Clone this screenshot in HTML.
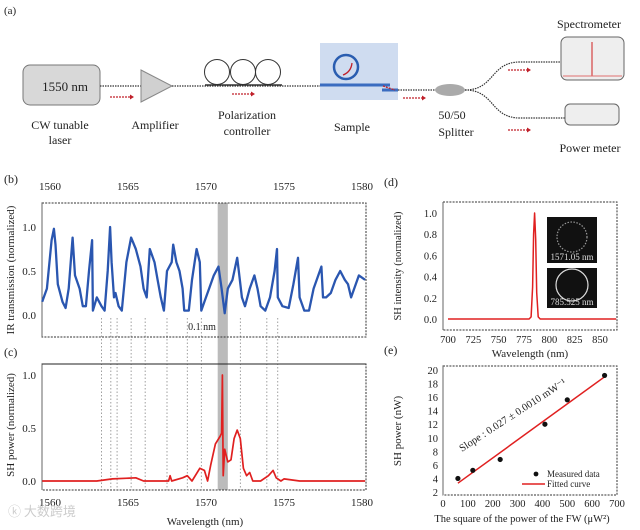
<!DOCTYPE html>
<html><head><meta charset="utf-8"><style>
html,body{margin:0;padding:0;background:#fff}
svg{display:block;font-family:"Liberation Serif","Noto Serif CJK SC",serif}
</style></head><body>
<svg id="fig" width="640" height="530" viewBox="0 0 640 530" xmlns="http://www.w3.org/2000/svg">
<g font-size="12" fill="#222">
 <text x="4" y="14" font-size="11">(a)</text>
 <rect x="23" y="65" width="77" height="40" rx="7" fill="#d8d8d8" stroke="#777"/>
 <text x="65" y="91" text-anchor="middle" font-size="13">1550 nm</text>
 <text x="60" y="129" text-anchor="middle">CW tunable</text>
 <text x="60" y="144" text-anchor="middle">laser</text>
 <line x1="100" y1="86" x2="141" y2="86" stroke="#333" stroke-width="1.2" stroke-dasharray="1.5,1"/>
 <polygon points="141,70 141,102 172,86" fill="#d0d0d0" stroke="#888"/>
 <text x="155" y="129" text-anchor="middle">Amplifier</text>
 <line x1="172" y1="86" x2="320" y2="86" stroke="#333" stroke-width="1.2" stroke-dasharray="1.5,1"/>
 <line x1="205" y1="85" x2="282" y2="85" stroke="#333" stroke-width="1.5"/>
 <circle cx="217" cy="72" r="12.5" fill="none" stroke="#333"/>
 <circle cx="243" cy="72" r="12.5" fill="none" stroke="#333"/>
 <circle cx="268" cy="72" r="12.5" fill="none" stroke="#333"/>
 <text x="247" y="119" text-anchor="middle">Polarization</text>
 <text x="247" y="135" text-anchor="middle">controller</text>
 <rect x="320" y="43" width="78" height="57" fill="#cfdcf0"/>
 <circle cx="346" cy="67" r="12" fill="none" stroke="#2a5db0" stroke-width="2.5"/>
 <path d="M343,75 Q351,72 352,63" fill="none" stroke="#c0202a" stroke-width="1.3"/>
 <line x1="320" y1="85" x2="390" y2="85" stroke="#3a6cc0" stroke-width="3"/>
 <line x1="382" y1="90" x2="398" y2="90" stroke="#3a6cc0" stroke-width="3"/>
 <text x="352" y="131" text-anchor="middle">Sample</text>
 <line x1="398" y1="90" x2="436" y2="90" stroke="#333" stroke-width="1.2" stroke-dasharray="1.5,1"/>
 <ellipse cx="450" cy="90" rx="15" ry="6" fill="#aaa"/>
 <path d="M465,90 C495,90 490,62 520,62 L561,62" fill="none" stroke="#333" stroke-width="1.2" stroke-dasharray="1.5,1"/>
 <path d="M465,90 C495,90 490,118 520,118 L565,118" fill="none" stroke="#333" stroke-width="1.2" stroke-dasharray="1.5,1"/>
 <text x="452" y="119" text-anchor="middle">50/50</text>
 <text x="456" y="136" text-anchor="middle">Splitter</text>
 <rect x="561" y="37" width="63" height="43" rx="6" fill="#eee" stroke="#666"/>
 <line x1="592" y1="42" x2="592" y2="76" stroke="#d02020"/>
 <line x1="563" y1="76" x2="622" y2="76" stroke="#e07070"/>
 <text x="589" y="28" text-anchor="middle">Spectrometer</text>
 <rect x="565" y="104" width="54" height="21" rx="5" fill="#eee" stroke="#666"/>
 <text x="590" y="152" text-anchor="middle">Power meter</text>
 <g stroke="#c0202a" stroke-width="1.3" stroke-dasharray="2,1" fill="#c0202a">
  <line x1="110" y1="97" x2="130" y2="97"/><line x1="232" y1="94" x2="251" y2="94"/>
  <line x1="403" y1="98" x2="422" y2="98"/><line x1="508" y1="70" x2="527" y2="70"/><line x1="508" y1="130" x2="527" y2="130"/>
  <line x1="383" y1="86" x2="395" y2="90"/>
 </g>
 <g fill="#c0202a">
  <polygon points="130,94.5 134,97 130,99.5"/><polygon points="251,91.5 255,94 251,96.5"/>
  <polygon points="422,95.5 426,98 422,100.5"/><polygon points="527,67.5 531,70 527,72.5"/><polygon points="527,127.5 531,130 527,132.5"/>
 </g>
</g>
<g id="plots"></g>
<text x="8" y="516" font-size="13" fill="#ccc" font-family="'Noto Sans CJK SC',sans-serif">ⓚ 大数跨境</text>
</svg>
<script>
const bWave=[1559.5,1559.8,1560.1,1560.25,1560.35,1560.5,1560.8,1561.0,1561.2,1561.45,1561.6,1561.9,1562.1,1562.3,1562.5,1562.7,1562.75,1563.0,1563.3,1563.5,1563.7,1563.85,1563.95,1564.1,1564.2,1564.4,1564.6,1564.9,1565.2,1565.5,1565.8,1566.0,1566.2,1566.4,1566.7,1566.9,1567.1,1567.3,1567.5,1567.8,1567.9,1568.1,1568.3,1568.5,1568.6,1568.9,1569.1,1569.4,1569.6,1569.7,1569.9,1570.2,1570.5,1570.8,1571.0,1571.2,1571.4,1571.7,1572.0,1572.1,1572.3,1572.5,1572.8,1573.1,1573.3,1573.5,1573.8,1574.1,1574.4,1574.55,1574.6,1574.9,1575.3,1575.6,1575.9,1576.0,1576.3,1576.6,1576.9,1577.2,1577.4,1577.5,1577.7,1578.0,1578.3,1578.6,1578.9,1579.1,1579.3,1579.5,1579.8,1580.2];
const bTrans=[0.15,0.3,0.85,0.98,0.8,0.35,0.15,0.08,0.3,0.88,0.45,0.3,0.1,0.1,0.5,0.85,0.05,0.2,0.1,0.05,0.5,1.0,0.6,0.2,0.25,0.1,0.05,0.6,0.88,0.75,0.55,0.3,0.2,0.75,0.6,0.4,0.2,0.05,0.5,0.6,0.8,0.6,0.5,0.3,0.05,0.05,0.4,0.75,0.6,0.05,0.15,0.3,0.45,0.55,0.3,0.02,0.3,0.4,0.65,0.5,0.2,0.1,0.3,0.45,0.3,0.1,0.05,0.2,0.5,0.75,0.2,0.1,0.08,0.35,0.65,0.2,0.05,0.05,0.3,0.45,0.55,0.2,0.2,0.25,0.4,0.5,0.4,0.35,0.2,0.3,0.45,0.4];
const cWave=[1559.5,1563,1564.0,1565.5,1566,1567.6,1567.7,1567.8,1568.5,1568.8,1569.1,1569.6,1569.9,1570.1,1570.3,1570.6,1570.9,1571.0,1571.05,1571.1,1571.2,1571.4,1571.6,1571.8,1572.0,1572.2,1572.4,1572.6,1572.8,1573.0,1573.5,1574.0,1574.3,1574.5,1574.8,1575,1576,1580.2];
const cPower=[0,0,0.02,0.03,0,0,0.05,0,0.03,0.05,0,0.12,0.1,0,0.15,0.35,0.42,0.45,1.0,0.05,0.3,0.18,0.2,0.4,0.48,0.4,0.12,0.05,0.08,0,0,0.05,0.1,0.03,0,0.02,0,0];
const bcTicks=[1560,1565,1570,1575,1580];
const bYTicks=[0,0.5,1.0];
const markerWaves=[1563.3,1563.9,1564.3,1565.2,1566.1,1567.5,1568.8,1569.7,1572.2,1573.9,1574.6];
const dWave=[700,780,782,783.5,784.5,785.5,786.5,787.5,789,791,866];
const dInt=[0,0,0.02,0.3,0.8,1.0,0.75,0.25,0.02,0,0];
const dXTicks=[700,725,750,775,800,825,850];
const dYTicks=[0,0.2,0.4,0.6,0.8,1.0];
const eX=[60,120,230,410,500,650];
const eY=[4,5.2,6.8,12,15.6,19.2];
const eFitX=[60,650];
const eFitY=[3.3,19.0];
const eXTicks=[0,100,200,300,400,500,600,700];
const eYTicks=[2,4,6,8,10,12,14,16,18,20];

const NS='http://www.w3.org/2000/svg';
const root=document.getElementById('plots');
function mk(tag,attrs,parent,text){const e=document.createElementNS(NS,tag);for(const k in attrs)e.setAttribute(k,attrs[k]);if(text!==undefined)e.textContent=text;(parent||root).appendChild(e);return e;}
function lin(d0,d1,r0,r1){return v=>r0+(v-d0)*(r1-r0)/(d1-d0);}

const xW=lin(1560,1580,50,362);
const yB=lin(0,1,315,227);
const yC=lin(0,1,481,375);

let band=mk('rect',{x:xW(1570.75),y:203,width:xW(1571.4)-xW(1570.75),height:287,fill:'#bbb'});


markerWaves.forEach(w=>{const l=mk('line',{x1:xW(w),x2:xW(w),y1:318,y2:490,stroke:'#888','stroke-width':0.8,'stroke-dasharray':'1.5,2'});

});

function frame(x0,y0,x1,y1,name){
 const g=mk('g',{});
 
 
 mk('rect',{x:x0,y:y0,width:x1-x0,height:y1-y0,fill:'none',stroke:'#333','stroke-width':1,'stroke-dasharray':'2,1.2'},g);
 mk('line',{x1:x0,y1:y0,x2:x0,y2:y1,stroke:'#666','stroke-width':1},g);
 return g;
}
function txt(x,y,s,name,opts){const t=mk('text',Object.assign({x:x,y:y,'font-size':11,fill:'#222'},opts||{}),root,s);
 
 return t;}
function poly(xs,ys,fx,fy,color,w,name){const pts=xs.map((v,i)=>fx(v).toFixed(1)+','+fy(ys[i]).toFixed(1)).join(' ');
 const p=mk('polyline',{points:pts,fill:'none',stroke:color,'stroke-width':w,'stroke-linejoin':'round'});
 
 return p;}

txt(4,183,'(b)','panel-label-b',{'font-size':12});
frame(42,203,366,337,'plot-frame-b');
bcTicks.forEach(t=>{txt(xW(t),190,String(t),'b-top-tick-label',{'text-anchor':'middle'});});
bYTicks.forEach(t=>{txt(36,yB(t)+4,t.toFixed(1),'b-y-tick-label',{'text-anchor':'end'});});
txt(0,0,'IR transmission (normalized)','b-y-axis-title',{transform:'translate(14,270) rotate(-90)','text-anchor':'middle','font-size':11});
poly(bWave,bTrans,xW,yB,'#2a56b0',2.3,'ir-transmission-line');
txt(202,330,'0.1 nm','bandwidth-label',{'text-anchor':'middle','font-size':10});

txt(4,356,'(c)','panel-label-c',{'font-size':12});
frame(42,364,366,490,'plot-frame-c');
mk('line',{x1:42,y1:364,x2:366,y2:364,stroke:'#222'});
bcTicks.forEach(t=>{txt(xW(t),506,String(t),'c-x-tick-label',{'text-anchor':'middle'});});
bYTicks.forEach(t=>{txt(36,yC(t)+4,t.toFixed(1),'c-y-tick-label',{'text-anchor':'end'});});
txt(0,0,'SH power (normalized)','c-y-axis-title',{transform:'translate(14,425) rotate(-90)','text-anchor':'middle'});
txt(205,525,'Wavelength (nm)','c-x-axis-title',{'text-anchor':'middle'});
poly(cWave,cPower,xW,yC,'#e02020',1.7,'sh-power-line');

const xD=lin(700,850,448,600), yD=lin(0,1,319,213);
txt(384,186,'(d)','panel-label-d',{'font-size':12});
frame(443,202,617,330,'plot-frame-d');
dXTicks.forEach(t=>{txt(xD(t),343,String(t),'d-x-tick-label',{'text-anchor':'middle','font-size':10.5});});
dYTicks.forEach(t=>{txt(437,yD(t)+4,t.toFixed(1),'d-y-tick-label',{'text-anchor':'end','font-size':10.5});});
txt(0,0,'SH intensity (normalized)','d-y-axis-title',{transform:'translate(401,266) rotate(-90)','text-anchor':'middle','font-size':10.5});
txt(530,357,'Wavelength (nm)','d-x-axis-title',{'text-anchor':'middle'});
poly(dWave,dInt,xD,yD,'#e02020',1.5,'sh-spectrum-line');
[[217,263,'1571.05 nm',15,'#999'],[268,308,'785.525 nm',16,'#ddd']].forEach((b,i)=>{
 const r=mk('rect',{x:547,y:b[0],width:50,height:b[1]-b[0],fill:'#111'});
 
 
 mk('circle',{cx:572,cy:(b[0]+b[1])/2-3,r:b[3],fill:'none',stroke:b[4],'stroke-width':1.2,'stroke-dasharray':i?'none':'1.5,1.5'});
 txt(572,b[1]-3,b[2],'inset-caption',{'text-anchor':'middle','font-size':9,fill:'#ddd'});
});

const xE=lin(0,700,443,617), yE=lin(2,20,492,370);
txt(384,354,'(e)','panel-label-e',{'font-size':12});
frame(443,366,617,495,'plot-frame-e');
eXTicks.forEach(t=>{txt(xE(t),507,String(t),'e-x-tick-label',{'text-anchor':'middle','font-size':10.5});});
eYTicks.forEach(t=>{txt(438,yE(t)+4,String(t),'e-y-tick-label',{'text-anchor':'end','font-size':10.5});});
txt(0,0,'SH power (nW)','e-y-axis-title',{transform:'translate(401,431) rotate(-90)','text-anchor':'middle'});
txt(522,522,'The square of the power of the FW (μW²)','e-x-axis-title',{'text-anchor':'middle','font-size':10.5});
poly(eFitX,eFitY,xE,yE,'#e02020',1.5,'fitted-curve');
eX.forEach((v,i)=>{const c=mk('circle',{cx:xE(v),cy:yE(eY[i]),r:2.6,fill:'#111'});
 
 });
txt(0,0,'Slope : 0.027 ± 0.0010 mW⁻¹','slope-annotation',{transform:'translate(462,452) rotate(-33)','font-size':10.5});
const lg=mk('circle',{cx:536,cy:474,r:2.4,fill:'#111'});


txt(547,477,'Measured data','legend-label-measured',{'font-size':9});
const ll=mk('line',{x1:522,y1:484,x2:545,y2:484,stroke:'#e02020','stroke-width':1.5});


txt(547,487,'Fitted curve','legend-label-fitted',{'font-size':9});
</script>
</body></html>
